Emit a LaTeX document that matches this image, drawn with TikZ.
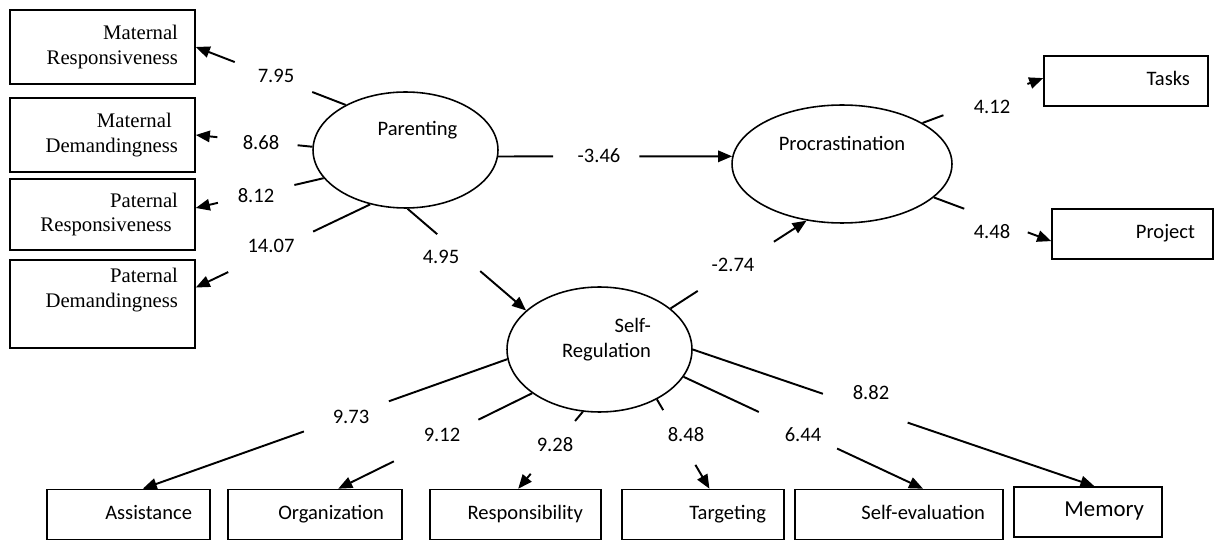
\documentclass[tikz,border=0pt]{standalone}
\usepackage{fontspec}
\setmainfont{Carlito}
\newfontfamily\timesfont{Liberation Serif}
\usetikzlibrary{shapes.geometric,arrows.meta,calc}

\tikzset{
>={Triangle[length=8pt,width=6.5pt]},
  latent/.style={
    ellipse,
    draw, line width=0.9pt,
    inner sep=0pt},
  indic/.style={
    rectangle,
    draw, line width=0.9pt,
    text width=3.02cm,
    inner xsep=0.34cm,
    align=right,
    font=\timesfont\fontsize{11.8}{14.2}\selectfont},
  item/.style={
    rectangle,
    draw, line width=0.9pt,
    text width=#1,
    inner xsep=0.36cm,
    text height=0.73em,
    text depth=0.19em,
    minimum height=1cm,
    align=right},
  conn/.style={line width=1.1pt},
  coef/.style={inner sep=1pt},
}

% broken path: from, to, end of first piece, start of arrow, value position, value, name
\newcommand{\loading}[7]{%
  \draw[conn] (#1) -- ($(#1)!#3!(#2)$);
  \draw[conn,->] ($(#1)!#4!(#2)$) -- (#2);
  \node[coef] (#7) at (#5) {#6};
}

\begin{document}
\begin{tikzpicture}[x=0.02cm, y=-0.02cm, font=\fontsize{11.7}{14.3}\selectfont]
\useasboundingbox (0,0) rectangle (1214,540);

    % latent variables
    \node[latent, minimum width=3.7cm, minimum height=2.32cm,
      label={[shift={(12,-20)}]center:Parenting}] (par) at (405.5,150) {};
    \node[latent, minimum width=4.4cm, minimum height=2.36cm,
      label={[shift={(0,-21)}]center:Procrastination}] (pro) at (842,164) {};
    \node[latent, minimum width=3.7cm, minimum height=2.5cm,
      label={[align=right, shift={(7,-10)}]center:Self-\\Regulation}] (sr) at (599.5,349.5) {};

    % parenting indicators
    \node[indic, minimum height=1.48cm] (mr) at (102.5,47) {Maternal\\Responsiveness};
    \node[indic, minimum height=1.48cm] (md) at (102.5,135) {\mbox{Maternal\kern0.3em}\\Demandingness};
    \node[indic, minimum height=1.42cm] (pr) at (102.5,214.5) {Paternal\\\mbox{Responsiveness\kern0.3em}};
    \node[indic, minimum height=1.76cm] (pd) at (102.5,304) {Paternal\\Demandingness\\\strut};

    % procrastination indicators
    \node[item=2.56cm] (tasks) at (1126,81) {Tasks};
    \node[item=2.50cm] (proj) at (1132.5,234) {Project};

    % self-regulation indicators
    \node[item=2.54cm] (asst) at (128.5,514.5) {Assistance};
    \node[item=2.76cm] (org) at (315,514.5) {Organization};
    \node[item=2.70cm] (resp) at (515.5,514.5) {Responsibility};
    \node[item=2.52cm] (targ) at (703,514.5) {Targeting};
    \node[item=3.44cm] (seval) at (899,514.5) {Self-evaluation};
    \node[item=2.24cm, font=\fontsize{13}{15.6}\selectfont] (mem) at (1088,512) {Memory};

    \loading{par.143}{mr.east}{0.223}{0.74}{276,76}{7.95}{v795}
    \loading{par.178}{md.east}{0.127}{0.815}{261,143}{8.68}{v868}
    \loading{par.199}{pr.4}{0.229}{0.827}{256,196}{8.12}{v812}
    \loading{par.237}{pd.10}{0.327}{0.814}{271,246}{14.07}{v1407}

    \loading{par.272}{sr.152}{0.25}{0.613}{441,257}{4.95}{v495}
    \loading{par.356}{pro.176}{0.235}{0.603}{599,156}{-3.46}{v346}
    \loading{sr.30}{pro.238}{0.2}{0.76}{733,265}{-2.74}{v274}

    \loading{pro.27}{tasks.178}{0.173}{0.869}{992,107}{4.12}{v412}
    \loading{pro.340}{proj.185}{0.259}{0.8}{992,232}{4.48}{v448}

    \loading{sr.186}{asst.61}{0.325}{0.558}{351,417}{9.73}{v973}
    \loading{sr.213}{org.48}{0.277}{0.713}{442,435}{9.12}{v912}
    \loading{sr.255}{resp.84}{0.12}{0.806}{555,445}{9.28}{v928}
    \loading{sr.319}{targ.76}{0.12}{0.733}{686,435}{8.48}{v848}
    \loading{sr.342}{seval.47}{0.314}{0.641}{803,435}{6.44}{v644}
    \loading{sr.east}{mem.76}{0.324}{0.535}{871,393}{8.82}{v882}

\end{tikzpicture}
\end{document}
